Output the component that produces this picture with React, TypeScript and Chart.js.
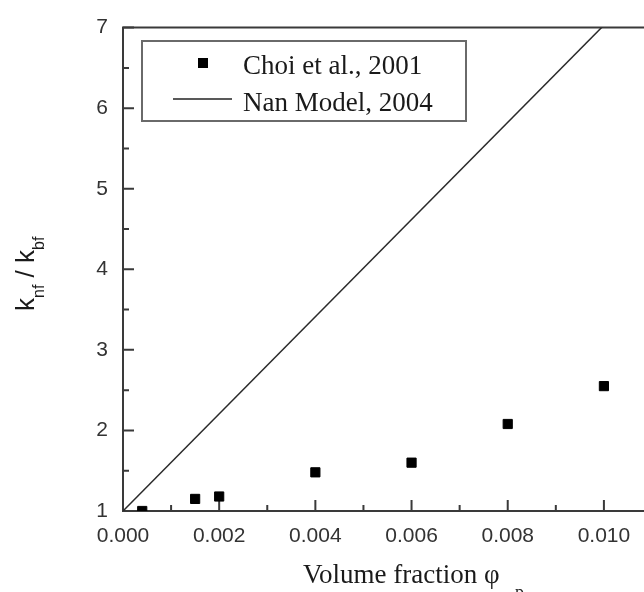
import React, { useEffect, useRef } from "react";
import { Chart, registerables } from "chart.js";

Chart.register(...registerables);

// Measured thermal conductivity ratio (Choi et al., 2001)
const choiPhi = [0.0004, 0.0015, 0.002, 0.004, 0.006, 0.008, 0.01];
const choiRatio = [1.0, 1.15, 1.18, 1.48, 1.6, 2.08, 2.55];

// Nan model prediction (straight line)
const nanPhi = [0, 0.01];
const nanRatio = [1, 7.03];

// Axis ticks
const xMajorTicks = [0, 0.002, 0.004, 0.006, 0.008, 0.01];
const xMinorTicks = [0.001, 0.003, 0.005, 0.007, 0.009, 0.011];
const yMajorTicks = [1, 2, 3, 4, 5, 6, 7];
const yMinorTicks = [1.5, 2.5, 3.5, 4.5, 5.5, 6.5];

const legendLabels = ["Choi et al., 2001", "Nan Model, 2004"];

const SERIF = '"Liberation Serif", "Times New Roman", serif';
const SANS = '"Liberation Sans", Arial, sans-serif';
const AXIS_COLOR = "#3a3a3a";

const framePlugin = {
  id: "frame",
  beforeDatasetsDraw(chart: any) {
    const { ctx, chartArea, scales } = chart;
    const { left, right, top, bottom } = chartArea;
    ctx.save();
    ctx.strokeStyle = AXIS_COLOR;
    ctx.lineWidth = 2;
    ctx.beginPath();
    ctx.moveTo(left, top);
    ctx.lineTo(right, top);
    ctx.lineTo(right, bottom);
    ctx.lineTo(left, bottom);
    ctx.closePath();
    ctx.stroke();

    // inward ticks
    ctx.beginPath();
    const x = scales.x;
    const y = scales.y;
    xMajorTicks.forEach((v) => {
      const px = x.getPixelForValue(v);
      ctx.moveTo(px, bottom);
      ctx.lineTo(px, bottom - 11);
    });
    xMinorTicks.forEach((v) => {
      const px = x.getPixelForValue(v);
      ctx.moveTo(px, bottom);
      ctx.lineTo(px, bottom - 6);
    });
    yMajorTicks.forEach((v) => {
      const py = y.getPixelForValue(v);
      ctx.moveTo(left, py);
      ctx.lineTo(left + 11, py);
    });
    yMinorTicks.forEach((v) => {
      const py = y.getPixelForValue(v);
      ctx.moveTo(left, py);
      ctx.lineTo(left + 6, py);
    });
    ctx.stroke();
    ctx.restore();
  },
  afterDraw(chart: any) {
    const { ctx } = chart;
    ctx.save();

    // legend box
    ctx.strokeStyle = "#6a6a6a";
    ctx.lineWidth = 2;
    ctx.strokeRect(142, 41, 324, 80);
    ctx.fillStyle = "#000";
    ctx.fillRect(198, 58, 10, 10);
    ctx.strokeStyle = "#222";
    ctx.lineWidth = 1.5;
    ctx.beginPath();
    ctx.moveTo(173, 99);
    ctx.lineTo(232, 99);
    ctx.stroke();
    ctx.fillStyle = "#1a1a1a";
    ctx.font = `27px ${SERIF}`;
    ctx.textAlign = "left";
    ctx.textBaseline = "alphabetic";
    ctx.fillText(legendLabels[0], 243, 74);
    ctx.fillText(legendLabels[1], 243, 111);

    // x axis title
    ctx.font = `27px ${SERIF}`;
    ctx.fillText("Volume fraction \u03C6", 303, 583);
    ctx.font = `18px ${SERIF}`;
    ctx.fillText("p", 515, 598);

    // y axis title (rotated, with subscripts)
    ctx.translate(34, 311);
    ctx.rotate(-Math.PI / 2);
    const parts: [string, boolean][] = [
      ["k", false],
      ["nf", true],
      [" / ", false],
      ["k", false],
      ["bf", true],
    ];
    let cx = 0;
    parts.forEach(([t, sub]) => {
      ctx.font = sub ? `16px ${SANS}` : `26px ${SANS}`;
      ctx.fillText(t, cx, sub ? 10 : 0);
      cx += ctx.measureText(t).width;
    });
    ctx.restore();
  },
};

export default function App() {
  const canvasRef = useRef<HTMLCanvasElement | null>(null);

  useEffect(() => {
    if (!canvasRef.current) return;
    const chart = new Chart(canvasRef.current, {
      type: "scatter",
      data: {
        datasets: [
          {
            label: legendLabels[0],
            data: choiPhi.map((v, i) => ({ x: v, y: choiRatio[i] })),
            pointStyle: "rect",
            pointRadius: 6.5,
            pointBackgroundColor: "#000",
            pointBorderColor: "#000",
            pointBorderWidth: 1,
            showLine: false,
            clip: 0,
          },
          {
            label: legendLabels[1],
            data: nanPhi.map((v, i) => ({ x: v, y: nanRatio[i] })),
            showLine: true,
            borderColor: "#2a2a2a",
            borderWidth: 1.5,
            pointRadius: 0,
            clip: 0,
          },
        ],
      },
      options: {
        responsive: false,
        animation: false,
        layout: { padding: { left: 0, top: 23, right: 8, bottom: 0 } },
        plugins: {
          legend: { display: false },
          tooltip: { enabled: false },
        },
        scales: {
          x: {
            type: "linear",
            min: 0,
            max: 0.011,
            grid: { display: false, drawTicks: false },
            border: { display: false },
            afterBuildTicks: (s: any) => {
              s.ticks = xMajorTicks.map((v) => ({ value: v }));
            },
            afterFit: (s: any) => {
              s.height = 81;
            },
            ticks: {
              padding: 13,
              maxRotation: 0,
              color: "#333",
              font: { family: SANS, size: 21 },
              callback: (v: any) => Number(v).toFixed(3),
            },
          },
          y: {
            type: "linear",
            min: 1,
            max: 7,
            grid: { display: false, drawTicks: false },
            border: { display: false },
            afterBuildTicks: (s: any) => {
              s.ticks = yMajorTicks.map((v) => ({ value: v }));
            },
            afterFit: (s: any) => {
              s.width = 123;
            },
            ticks: {
              padding: 15,
              color: "#333",
              font: { family: SANS, size: 21 },
              callback: (v: any) => String(v),
            },
          },
        },
      },
      plugins: [framePlugin],
    });
    return () => chart.destroy();
  }, []);

  return (
    <div
      style={{
        position: "absolute",
        left: 0,
        top: 0,
        width: 644,
        height: 592,
        overflow: "hidden",
        background: "#fff",
      }}
    >
      <canvas ref={canvasRef} width={660} height={592} style={{ display: "block" }} />
    </div>
  );
}
